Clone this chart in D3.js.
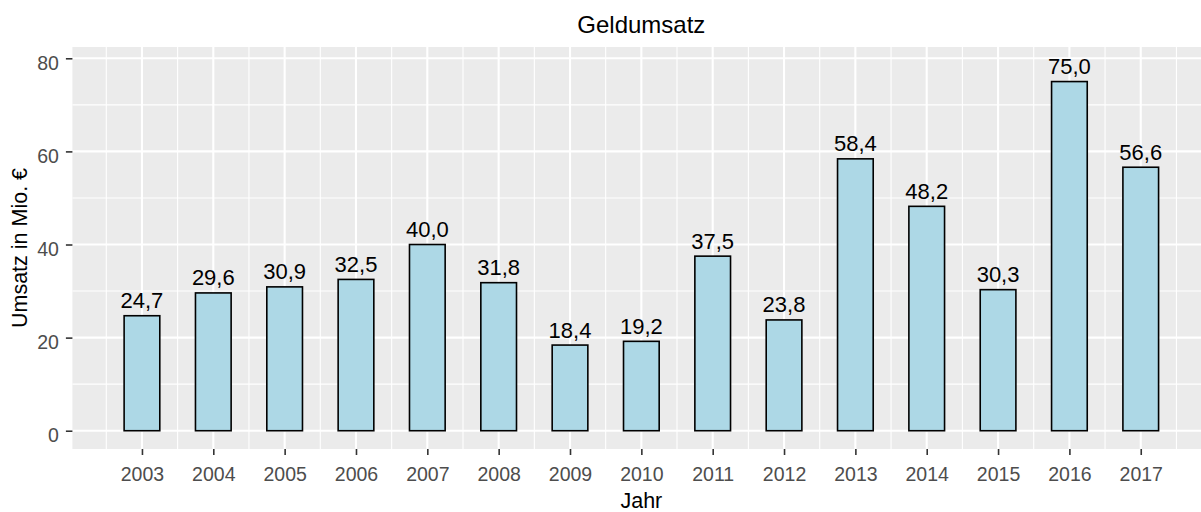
<!DOCTYPE html>
<html>
<head>
    <meta charset="utf-8">
    <title>Geldumsatz</title>
    <script src="https://d3js.org/d3.v7.min.js"></script>
    <style>
        body { margin: 0; background: #fff; }
        text { font-family: "Liberation Sans", Arial, sans-serif; }
    </style>
</head>
<body>
    <script>
        // Daten
        const years = [2003, 2004, 2005, 2006, 2007, 2008, 2009, 2010, 2011, 2012, 2013, 2014, 2015, 2016, 2017];
        const umsatz = [24.7, 29.6, 30.9, 32.5, 40.0, 31.8, 18.4, 19.2, 37.5, 23.8, 58.4, 48.2, 30.3, 75.0, 56.6];
        const yTicks = [0, 20, 40, 60, 80];
        const yMinor = [10, 30, 50, 70];
        const xMinor = [2002.5].concat(years.map(y => y + 0.5));

        const data = years.map((y, i) => ({ year: y, value: umsatz[i] }));

        const width = 1201, height = 512;
        const panel = { left: 72.4, right: 1210.3, top: 47, bottom: 449 };

        const svg = d3.select("body").append("svg")
            .attr("width", width)
            .attr("height", height);

        // Skalen (kontinuierliche x-Achse wie in ggplot)
        const x = d3.scaleLinear()
            .domain([2002.025, 2017.975])
            .range([panel.left, panel.right]);

        const y = d3.scaleLinear()
            .domain([-3.925, 82.425])
            .range([panel.bottom, panel.top]);

        const fmt = v => d3.format(".1f")(v).replace(".", ",");

        // Hintergrund des Panels
        svg.append("rect")
            .attr("x", panel.left)
            .attr("y", panel.top)
            .attr("width", panel.right - panel.left)
            .attr("height", panel.bottom - panel.top)
            .attr("fill", "#EBEBEB");

        const grid = svg.append("g");

        // Nebengitter
        grid.selectAll("line.ymin")
            .data(yMinor)
            .enter().append("line")
            .attr("x1", panel.left).attr("x2", panel.right)
            .attr("y1", d => y(d)).attr("y2", d => y(d))
            .attr("stroke", "#fff").attr("stroke-width", 1.1);

        grid.selectAll("line.xmin")
            .data(xMinor)
            .enter().append("line")
            .attr("y1", panel.top).attr("y2", panel.bottom)
            .attr("x1", d => x(d)).attr("x2", d => x(d))
            .attr("stroke", "#fff").attr("stroke-width", 1.1);

        // Hauptgitter
        grid.selectAll("line.ymaj")
            .data(yTicks)
            .enter().append("line")
            .attr("x1", panel.left).attr("x2", panel.right)
            .attr("y1", d => y(d)).attr("y2", d => y(d))
            .attr("stroke", "#fff").attr("stroke-width", 2.1);

        grid.selectAll("line.xmaj")
            .data(years)
            .enter().append("line")
            .attr("y1", panel.top).attr("y2", panel.bottom)
            .attr("x1", d => x(d)).attr("x2", d => x(d))
            .attr("stroke", "#fff").attr("stroke-width", 2.1);

        // Balken
        const bw = x(2003.25) - x(2002.75);
        svg.selectAll("rect.bar")
            .data(data)
            .enter().append("rect")
            .attr("class", "bar")
            .attr("x", d => x(d.year - 0.25))
            .attr("y", d => y(d.value))
            .attr("width", bw)
            .attr("height", d => y(0) - y(d.value))
            .attr("fill", "#ADD8E6")
            .attr("stroke", "#000")
            .attr("stroke-width", 1.6);

        // Werte über den Balken
        svg.selectAll("text.val")
            .data(data)
            .enter().append("text")
            .attr("class", "val")
            .attr("x", d => x(d.year))
            .attr("y", d => y(d.value) - 7.5)
            .attr("text-anchor", "middle")
            .attr("font-size", 22)
            .attr("fill", "#000")
            .text(d => fmt(d.value));

        // Achsen
        const xAxis = svg.append("g")
            .attr("transform", `translate(0,${panel.bottom})`)
            .call(d3.axisBottom(x).tickValues(years).tickFormat(d3.format("d")).tickSize(6));

        const yAxis = svg.append("g")
            .attr("transform", `translate(${panel.left},0)`)
            .call(d3.axisLeft(y).tickValues(yTicks).tickSize(6.5).tickPadding(7));

        [xAxis, yAxis].forEach(a => {
            a.select(".domain").remove();
            a.selectAll(".tick line").attr("stroke", "#333").attr("stroke-width", 1.6);
            a.selectAll(".tick text")
                .attr("fill", "#4D4D4D")
                .attr("font-size", 19.5)
                .attr("font-family", "Liberation Sans, Arial, sans-serif");
        });
        xAxis.selectAll(".tick text").attr("y", 31.5).attr("dy", 0);
        yAxis.selectAll(".tick text").attr("dy", "0.55em");

        // Titel
        svg.append("text")
            .attr("x", (panel.left + panel.right) / 2)
            .attr("y", 33)
            .attr("text-anchor", "middle")
            .attr("font-size", 24)
            .attr("fill", "#000")
            .text("Geldumsatz");

        svg.append("text")
            .attr("x", (panel.left + panel.right) / 2)
            .attr("y", 508)
            .attr("text-anchor", "middle")
            .attr("font-size", 21.5)
            .attr("fill", "#000")
            .text("Jahr");

        svg.append("text")
            .attr("transform", `translate(26.7,${(panel.top + panel.bottom) / 2}) rotate(-90)`)
            .attr("text-anchor", "middle")
            .attr("font-size", 21.5)
            .attr("fill", "#000")
            .text("Umsatz in Mio. €");
    </script>
</body>
</html>
